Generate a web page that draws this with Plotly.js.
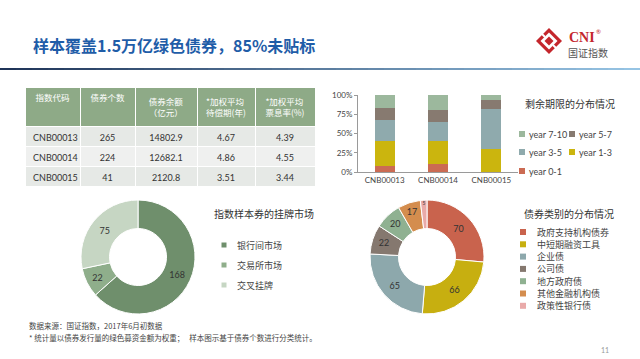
<!DOCTYPE html>
<html><head><meta charset="utf-8">
<script src="https://cdn.plot.ly/plotly-3.0.1.min.js"></script>
<style>html,body{margin:0;padding:0;background:#fff}#chart{width:640px;height:359px}</style>
</head><body><div id="chart"></div>
<script>
const W = 640, H = 359;
const px = x => x / W, py = y => 1 - y / H;

// ---- data ----
const tableHeader = ['指数代码', '债券个数', '债券余额<br>（亿元）', '*加权平均<br>待偿期(年)', '*加权平均<br>票息率(%)'];
const indexCodes = ['CNB00013', 'CNB00014', 'CNB00015'];
const bondCounts = [265, 224, 41];
const bondBalance = ['14802.9', '12682.1', '2120.8'];
const avgMaturity = ['4.67', '4.86', '3.51'];
const avgCoupon = ['4.39', '4.55', '3.44'];

const maturitySeries = ['year 0-1', 'year 1-3', 'year 3-5', 'year 5-7', 'year 7-10'];
const maturityValues = [[8, 10, 0], [32, 30, 30], [28, 25, 52], [15, 16, 12], [17, 19, 6]];
const maturityColors = ['#CB6B53', '#CBB50E', '#8FAAAD', '#877A70', '#9CB89D'];
const pctTicks = [0, 25, 50, 75, 100];
const pctTickText = ['0%', '25%', '50%', '75%', '100%'];

const marketLabels = ['银行间市场', '交易所市场', '交叉挂牌'];
const marketValues = [168, 22, 75];
const marketColors = ['#6F8F6C', '#8FAE8B', '#C6D6C3'];

const typeLabels = ['政府支持机构债券', '中短期融资工具', '企业债', '公司债', '地方政府债', '其他金融机构债', '政策性银行债'];
const typeValues = [70, 66, 65, 22, 20, 17, 5];
const typeColors = ['#C9634D', '#C7AF10', '#8DA8AC', '#85786F', '#8FB191', '#D48D4E', '#E9AAA9'];

const CJK = '"Noto Sans CJK SC", sans-serif';
const LAT = 'Lato, "Noto Sans", sans-serif';

// ---- traces ----
const traces = [];
traces.push({
  type: 'table',
  domain: {x: [px(25), px(315)], y: [py(200), py(87)]},
  columnwidth: [55, 55, 62, 58, 60],
  header: {
    values: tableHeader,
    fill: {color: '#8EAA87'},
    font: {family: CJK, size: 8.5, color: '#ffffff'},
    line: {color: '#ffffff', width: 1},
    align: 'center', height: 28
  },
  cells: {
    values: [indexCodes, bondCounts, bondBalance, avgMaturity, avgCoupon],
    fill: {color: [['#E6E9E6', '#EFF0EF', '#E6E9E6']]},
    font: {family: LAT, size: 9, color: '#333333'},
    line: {color: '#ffffff', width: 1},
    align: ['left', 'center', 'center', 'center', 'center'],
    height: 20
  }
});

maturitySeries.forEach((name, i) => {
  traces.push({
    type: 'bar', name: name, x: indexCodes, y: maturityValues[i],
    xaxis: 'x', yaxis: 'y', width: 0.38,
    marker: {color: maturityColors[i]}, hoverinfo: 'skip'
  });
});

traces.push({
  type: 'pie', labels: marketLabels, values: marketValues,
  domain: {x: [px(81), px(195)], y: [py(314), py(200)]},
  hole: 0.5, sort: false, direction: 'clockwise', rotation: 0,
  marker: {colors: marketColors, line: {color: '#ffffff', width: 1}},
  textinfo: 'value', textposition: 'inside', insidetextorientation: 'horizontal',
  textfont: {family: LAT, size: 9, color: '#333333'}
});

traces.push({
  type: 'pie', labels: typeLabels, values: typeValues,
  domain: {x: [px(370), px(484)], y: [py(314), py(200)]},
  hole: 0.5, sort: false, direction: 'clockwise', rotation: 0,
  marker: {colors: typeColors, line: {color: '#ffffff', width: 1}},
  textinfo: 'value', textposition: 'inside', insidetextorientation: 'horizontal',
  textfont: {family: LAT, size: 9, color: '#333333'}
});

// ---- decorations ----
const shapes = [];
const annotations = [];

// title underline gradient
const N = 40;
function lerp(a, b, t) { return Math.round(a + (b - a) * t); }
const c0 = [31, 52, 88], c1 = [150, 196, 228];
for (let i = 0; i < N; i++) {
  const t = i / (N - 1);
  shapes.push({type: 'line', xref: 'paper', yref: 'paper',
    x0: px(i * W / N), x1: px((i + 1) * W / N), y0: py(69), y1: py(69),
    line: {color: `rgb(${lerp(c0[0], c1[0], t)},${lerp(c0[1], c1[1], t)},${lerp(c0[2], c1[2], t)})`, width: 2}});
}

// logo
function diamond(cx, cy, r) {
  return `M ${px(cx)} ${py(cy - r)} L ${px(cx + r)} ${py(cy)} L ${px(cx)} ${py(cy + r)} L ${px(cx - r)} ${py(cy)} Z`;
}
shapes.push({type: 'path', xref: 'paper', yref: 'paper', path: diamond(549, 41, 13), fillcolor: '#C4262C', line: {width: 0}});
shapes.push({type: 'path', xref: 'paper', yref: 'paper', path: diamond(549, 41, 8.5), fillcolor: '#ffffff', line: {width: 0}});
shapes.push({type: 'path', xref: 'paper', yref: 'paper', path: diamond(549, 41, 4.5), fillcolor: '#C4262C', line: {width: 0}});
shapes.push({type: 'line', xref: 'paper', yref: 'paper', x0: px(540), y0: py(32), x1: px(545), y1: py(37), line: {color: '#ffffff', width: 2}});
shapes.push({type: 'line', xref: 'paper', yref: 'paper', x0: px(553), y0: py(45), x1: px(558), y1: py(50), line: {color: '#ffffff', width: 2}});
annotations.push({xref: 'paper', yref: 'paper', x: px(567), y: py(37), xanchor: 'left', yanchor: 'middle', showarrow: false,
  text: '<b>CNI</b>', font: {family: '"Liberation Serif", serif', size: 14, color: '#C4262C'}});
annotations.push({xref: 'paper', yref: 'paper', x: px(594), y: py(31), xanchor: 'left', yanchor: 'middle', showarrow: false,
  text: '®', font: {family: LAT, size: 6, color: '#C4262C'}});
annotations.push({xref: 'paper', yref: 'paper', x: px(566), y: py(52), xanchor: 'left', yanchor: 'middle', showarrow: false,
  text: '国证指数', font: {family: CJK, size: 10, color: '#555555'}});

// page title
annotations.push({xref: 'paper', yref: 'paper', x: px(31), y: py(45), xanchor: 'left', yanchor: 'middle', showarrow: false,
  text: '<b>样本覆盖1.5万亿绿色债券，85%未贴标</b>', font: {family: CJK, size: 16, color: '#1F5DA8'}});

// chart titles
annotations.push({xref: 'paper', yref: 'paper', x: px(570), y: py(103), xanchor: 'center', yanchor: 'middle', showarrow: false,
  text: '剩余期限的分布情况', font: {family: CJK, size: 10, color: '#333333'}});
annotations.push({xref: 'paper', yref: 'paper', x: px(264), y: py(213), xanchor: 'center', yanchor: 'middle', showarrow: false,
  text: '指数样本券的挂牌市场', font: {family: CJK, size: 10, color: '#333333'}});
annotations.push({xref: 'paper', yref: 'paper', x: px(569), y: py(213), xanchor: 'center', yanchor: 'middle', showarrow: false,
  text: '债券类别的分布情况', font: {family: CJK, size: 10, color: '#333333'}});

function legendItem(label, color, mx, tx, y, size, font, fsize) {
  shapes.push({type: 'rect', xref: 'paper', yref: 'paper',
    x0: px(mx - size / 2), x1: px(mx + size / 2), y0: py(y + size / 2), y1: py(y - size / 2),
    fillcolor: color, line: {width: 0}});
  annotations.push({xref: 'paper', yref: 'paper', x: px(tx), y: py(y), xanchor: 'left', yanchor: 'middle', showarrow: false,
    text: label, font: {family: font, size: fsize, color: '#444444'}});
}

// bar legend (two columns, reversed order)
const revIdx = maturitySeries.map((_, i) => maturitySeries.length - 1 - i);
const barRowsY = [134, 152, 171];
revIdx.forEach((si, k) => {
  const row = Math.floor(k / 2), col = k % 2;
  legendItem(maturitySeries[si], maturityColors[si], 522 + col * 50, 527 + col * 50, barRowsY[row], 6, LAT, 9);
});
// market legend
marketLabels.forEach((l, k) => legendItem(l, marketColors[k], 224, 235, 245 + 20 * k, 5, CJK, 9));
// type legend
typeLabels.forEach((l, k) => legendItem(l, typeColors[k], 523, 535, 232 + 12.3 * k, 6, CJK, 9));

// footer
annotations.push({xref: 'paper', yref: 'paper', x: px(27), y: py(325), xanchor: 'left', yanchor: 'middle', showarrow: false,
  text: '数据来源：国证指数，2017年6月初数据', font: {family: CJK, size: 7.5, color: '#444444'}});
annotations.push({xref: 'paper', yref: 'paper', x: px(27), y: py(337), xanchor: 'left', yanchor: 'middle', showarrow: false,
  text: '* 统计量以债券发行量的绿色募资金额为权重；   样本图示基于债券个数进行分类统计。', font: {family: CJK, size: 7.5, color: '#444444'}});
annotations.push({xref: 'paper', yref: 'paper', x: px(605), y: py(350), xanchor: 'center', yanchor: 'middle', showarrow: false,
  text: '11', font: {family: LAT, size: 7, color: '#999999'}});

const layout = {
  width: W, height: H,
  margin: {l: 0, r: 0, t: 0, b: 0},
  paper_bgcolor: '#ffffff', plot_bgcolor: '#ffffff',
  showlegend: false, barmode: 'stack', bargap: 0.6,
  font: {family: LAT, color: '#444444'},
  xaxis: {domain: [px(358), px(518)], showline: true, linecolor: '#9a9a9a', linewidth: 1,
    ticks: '', tickfont: {family: LAT, size: 8, color: '#444444'}, fixedrange: true},
  yaxis: {domain: [py(172), py(95)], range: [0, 100], tickmode: 'array', tickvals: pctTicks, ticktext: pctTickText,
    showline: true, linecolor: '#9a9a9a', linewidth: 1, ticks: 'outside', ticklen: 3, tickcolor: '#9a9a9a',
    showgrid: false, zeroline: false, tickfont: {family: LAT, size: 8, color: '#444444'}, fixedrange: true},
  shapes: shapes, annotations: annotations
};

Plotly.newPlot('chart', traces, layout, {staticPlot: true, displayModeBar: false});
</script></body></html>
